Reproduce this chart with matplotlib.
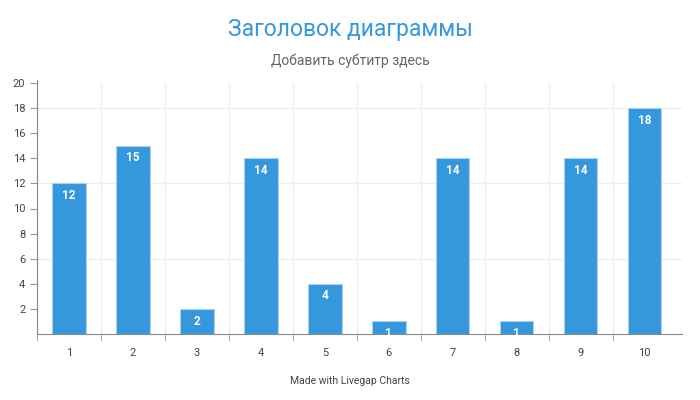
import matplotlib
matplotlib.use("Agg")
import matplotlib.pyplot as plt

plt.rcParams['font.family'] = ['Roboto', 'DejaVu Sans']

categories = ["1", "2", "3", "4", "5", "6", "7", "8", "9", "10"]
values = [12, 15, 2, 14, 4, 1, 14, 1, 14, 18]
title = "Заголовок диаграммы"
subtitle = "Добавить субтитр здесь"
footer = "Made with Livegap Charts"

bar_color = "#3598dc"
fig = plt.figure(figsize=(7, 4), dpi=100)
ax = fig.add_axes([0.053, 0.165, 0.921, 0.6275])

x = list(range(len(categories)))
ax.bar(x, values, width=0.52, color=bar_color, edgecolor="#a9d2f0", linewidth=0.8, zorder=3)
for xi, v in zip(x, values):
    ax.text(xi, v - 0.45, str(v), ha="center", va="top", color="white",
            fontsize=8.5, fontweight="bold", zorder=4)

ax.set_xlim(-0.5, len(categories) - 0.42)
ax.set_ylim(0, 20)
ax.set_xticks(x)
ax.set_xticklabels(categories)
ax.set_xticks([i - 0.5 for i in range(len(categories))], minor=True)
ax.set_yticks(range(2, 21, 2))
ax.tick_params(axis="x", which="major", length=0, pad=10, labelsize=8, labelcolor="#444444")
ax.tick_params(axis="x", which="minor", length=5, color="#999999", direction="out")
ax.tick_params(axis="y", length=5, color="#999999", labelsize=8, labelcolor="#444444")

# light grid: every third y tick, plus the category boundaries
for y in [6, 12, 18]:
    ax.axhline(y, color="#eeeeee", linewidth=1, zorder=1)
ax.grid(True, axis="x", which="minor", color="#eeeeee", linewidth=1, zorder=1)

for side in ["top", "right"]:
    ax.spines[side].set_visible(False)
ax.spines["left"].set_color("#888888")
ax.spines["bottom"].set_color("#888888")
ax.spines["left"].set_bounds(0, 20.2)

fig.text(0.5, 0.926, title, ha="center", va="center", fontsize=16.5, color="#3598dc")
fig.text(0.5, 0.848, subtitle, ha="center", va="center", fontsize=10, color="#666666")
fig.text(0.5, 0.048, footer, ha="center", va="center", fontsize=7.5, color="#444444")

fig.savefig("out.png", dpi=100, facecolor="white")
